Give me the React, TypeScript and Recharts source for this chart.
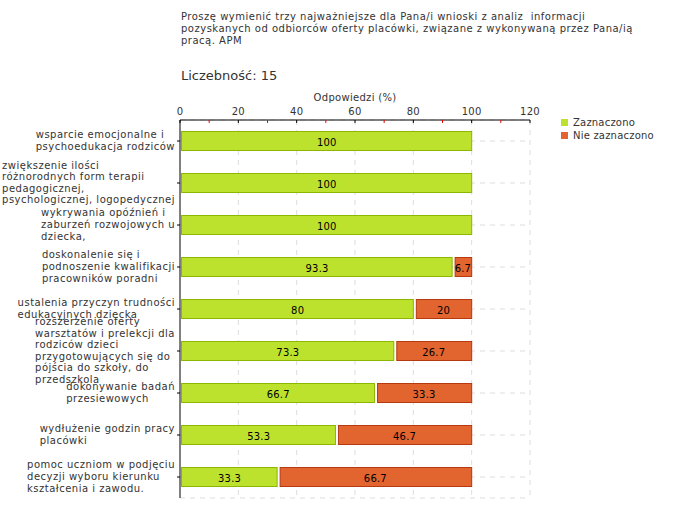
import React from 'react';
import { Bar, BarChart, CartesianGrid, LabelList, XAxis, YAxis } from 'recharts';

const titleLines = [
  'Proszę wymienić trzy najważniejsze dla Pana/i wnioski z analiz  informacji',
  'pozyskanych od odbiorców oferty placówki, związane z wykonywaną przez Pana/ią',
  'pracą. APM',
];
const sampleSize = 15;
const axisTitle = 'Odpowiedzi (%)';

const categories = [
  'wsparcie emocjonalne i\npsychoedukacja rodziców',
  'zwiększenie ilości\nróżnorodnych form terapii\npedagogicznej,\npsychologicznej, logopedycznej',
  'wykrywania opóźnień i\nzaburzeń rozwojowych u\ndziecka,',
  'doskonalenie się i\npodnoszenie kwalifikacji\npracowników poradni',
  'ustalenia przyczyn trudności\nedukacyjnych dziecka',
  'rozszerzenie oferty\nwarsztatów i prelekcji dla\nrodziców dzieci\nprzygotowujących się do\npójścia do szkoły, do\nprzedszkola',
  'dokonywanie badań\nprzesiewowych',
  'wydłużenie godzin pracy\nplacówki',
  'pomoc uczniom w podjęciu\ndecyzji wyboru kierunku\nkształcenia i zawodu.',
];
const zaznaczono = [100, 100, 100, 93.3, 80, 73.3, 66.7, 53.3, 33.3];
const nieZaznaczono = [0, 0, 0, 6.7, 20, 26.7, 33.3, 46.7, 66.7];
const xTicks = [0, 10, 20, 30, 40, 50, 60, 70, 80, 90, 100, 110, 120];

const seriesNames = { yes: 'Zaznaczono', no: 'Nie zaznaczono' };

const FONT = '"DejaVu Sans", Verdana, sans-serif';
const TEXT = '#333';
const GREEN = '#bde22e';
const GREEN_EDGE = '#8db600';
const ORANGE = '#e2642f';
const ORANGE_EDGE = '#b53a10';
const LABEL_SPACING = 0.5;

const data = categories.map((name, i) => ({ name, yes: zaznaczono[i], no: nieZaznaczono[i] }));

// canvas measuring, so label blocks are left-aligned inside and right-aligned to the axis
const ctx = typeof document !== 'undefined' ? document.createElement('canvas').getContext('2d') : null;
const textWidth = (s: string, font: string) => {
  if (!ctx) return s.length * 6;
  ctx.font = font;
  return ctx.measureText(s).width + s.length * LABEL_SPACING;
};

const LINE_H = 11.6;

const LeftTick = (props: any) => {
  const { x, y, payload } = props;
  const lines: string[] = String(payload.value).split('\n');
  const w = Math.max(...lines.map((l) => textWidth(l, `10px ${FONT}`)));
  const left = x - w;
  const top = y - ((lines.length - 1) * LINE_H) / 2;
  return (
    <text
      x={left}
      y={top}
      fontSize={10}
      fontFamily={FONT}
      fill={TEXT}
      letterSpacing={LABEL_SPACING}
      dominantBaseline="middle"
    >
      {lines.map((l, i) => (
        <tspan key={i} x={left} y={top + i * LINE_H} dominantBaseline="middle">
          {l}
        </tspan>
      ))}
    </text>
  );
};

const TopTick = (props: any) => {
  const { x, y, payload } = props;
  const major = payload.value % 20 === 0;
  const axisY = y + 8;
  return (
    <g>
      <line x1={x} x2={x} y1={axisY} y2={axisY + 3} stroke={major ? '#000' : '#e00'} />
      {major && (
        <text x={x} y={y + 3} textAnchor="middle" fontSize={10} fontFamily={FONT} fill={TEXT} letterSpacing={0.3}>
          {payload.value}
        </text>
      )}
    </g>
  );
};

const YesShape = (p: any) =>
  p.width > 0 ? (
    <rect x={p.x + 1.5} y={p.y + 0.5} width={p.width - 1.5} height={p.height - 1} fill={GREEN} stroke={GREEN_EDGE} />
  ) : null;

const NoShape = (p: any) =>
  p.width > 0 ? (
    <rect x={p.x + 3} y={p.y + 0.5} width={p.width - 3} height={p.height - 1} fill={ORANGE} stroke={ORANGE_EDGE} />
  ) : null;

const BarValue = (p: any) => {
  const { x, y, width, height, value } = p;
  if (!value) return null;
  return (
    <text
      x={x + width / 2 + 1}
      y={y + height / 2 + 1}
      textAnchor="middle"
      dominantBaseline="central"
      fontSize={10}
      fontFamily={FONT}
      fill="#000"
      letterSpacing={0.2}
    >
      {value}
    </text>
  );
};

const verticalGrid = (p: any) =>
  p.index > 0 && p.index % 2 === 0 ? (
    <line key={p.key} x1={p.x1} x2={p.x2} y1={p.y1} y2={p.y2} stroke="#ddd" strokeDasharray="5 5" />
  ) : (
    <g key={p.key} />
  );

export default function App() {
  return (
    <div style={{ position: 'absolute', left: 0, top: 0, width: 680, height: 520, background: '#fff', fontFamily: FONT }}>
      <div
        style={{
          position: 'absolute',
          left: 181,
          top: 11,
          fontSize: 10,
          lineHeight: '12px',
          letterSpacing: 0.5,
          color: TEXT,
          whiteSpace: 'pre',
        }}
      >
        {titleLines.join('\n')}
      </div>
      <div style={{ position: 'absolute', left: 181, top: 68, fontSize: 13, color: TEXT }}>
        Liczebność: {sampleSize}
      </div>
      <div
        style={{
          position: 'absolute',
          left: 355,
          top: 92,
          transform: 'translateX(-50%)',
          fontSize: 10,
          letterSpacing: 0.3,
          color: TEXT,
          whiteSpace: 'nowrap',
        }}
      >
        {axisTitle}
      </div>

      <BarChart
        width={680}
        height={520}
        data={data}
        layout="vertical"
        barSize={20}
        margin={{ top: 90, right: 150, bottom: 22, left: 0 }}
      >
        <CartesianGrid stroke="#ddd" strokeDasharray="5 5" vertical={verticalGrid} horizontal />
        <XAxis
          type="number"
          orientation="top"
          domain={[0, 120]}
          ticks={xTicks}
          interval={0}
          height={30}
          axisLine={{ stroke: '#000' }}
          tickLine={false}
          tickSize={0}
          tickMargin={8}
          tick={<TopTick />}
        />
        <YAxis
          type="category"
          dataKey="name"
          width={180}
          axisLine={{ stroke: '#000' }}
          tickLine={{ stroke: '#000' }}
          tickSize={3}
          tickMargin={2}
          interval={0}
          tick={<LeftTick />}
        />
        <Bar dataKey="yes" stackId="a" name={seriesNames.yes} shape={<YesShape />} isAnimationActive={false}>
          <LabelList dataKey="yes" content={<BarValue />} />
        </Bar>
        <Bar dataKey="no" stackId="a" name={seriesNames.no} shape={<NoShape />} isAnimationActive={false}>
          <LabelList dataKey="no" content={<BarValue />} />
        </Bar>
      </BarChart>

      <div style={{ position: 'absolute', left: 561, top: 116, fontSize: 10, letterSpacing: 0.2, color: TEXT, lineHeight: '13px' }}>
        {[
          { name: seriesNames.yes, color: GREEN },
          { name: seriesNames.no, color: ORANGE },
        ].map((s) => (
          <div key={s.name} style={{ display: 'flex', alignItems: 'center' }}>
            <span style={{ display: 'inline-block', width: 7, height: 7, background: s.color, marginRight: 5 }} />
            {s.name}
          </div>
        ))}
      </div>
    </div>
  );
}
